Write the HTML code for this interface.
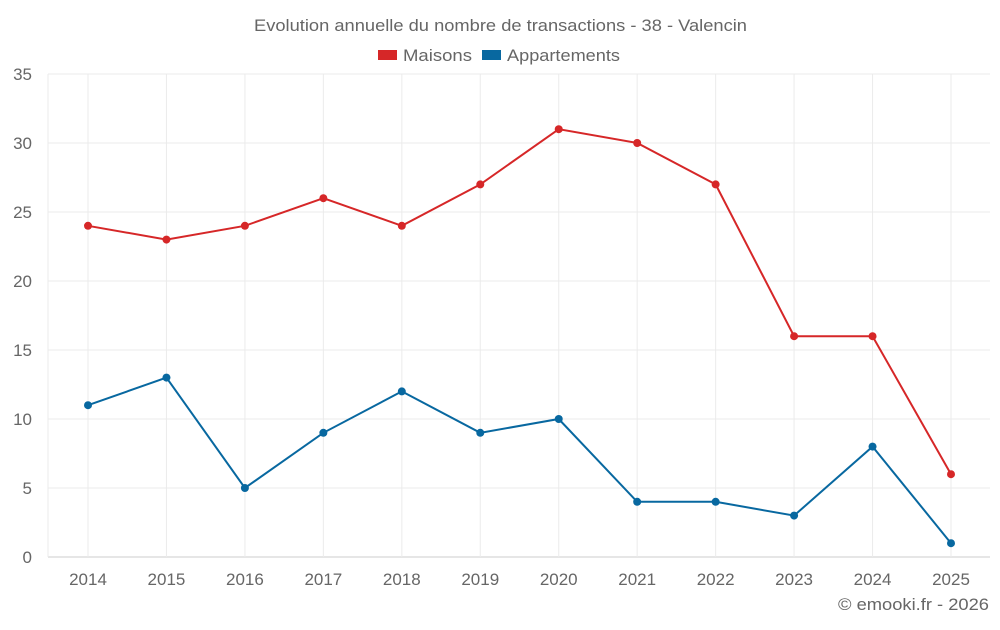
<!DOCTYPE html>
<html><head><meta charset="utf-8"><style>
body{margin:0;background:#fff;font-family:"Liberation Sans",sans-serif}
svg text{font-family:"Liberation Sans",sans-serif;fill:#666}
</style></head><body>
<svg id="chart" width="1000" height="625" xmlns="http://www.w3.org/2000/svg">
<text x="254" y="31" font-size="17" textLength="493" lengthAdjust="spacingAndGlyphs">Evolution annuelle du nombre de transactions - 38 - Valencin</text>
<g>
<rect x="378" y="50" width="19" height="10" fill="#d62728"/>
<text x="403" y="61" font-size="17" textLength="69" lengthAdjust="spacingAndGlyphs">Maisons</text>
<rect x="482" y="50" width="19" height="10" fill="#0868a0"/>
<text x="507" y="61" font-size="17" textLength="113" lengthAdjust="spacingAndGlyphs">Appartements</text>
</g>
<g id="grid"></g><g id="axes"></g><g id="series"></g>
<text x="838" y="610" font-size="17" textLength="151" lengthAdjust="spacingAndGlyphs">© emooki.fr - 2026</text>
</svg>
<script>
const years=["2014","2015","2016","2017","2018","2019","2020","2021","2022","2023","2024","2025"];
const maisons=[24,23,24,26,24,27,31,30,27,16,16,6];
const appartements=[11,13,5,9,12,9,10,4,4,3,8,1];
const yTicks=[0,5,10,15,20,25,30,35];
const NS="http://www.w3.org/2000/svg";
const L=48,R=990,T=74,B=557,yMax=35;
const x=i=>88+i*(951-88)/(years.length-1);
const y=v=>B-(B-T)*v/yMax;
function mk(tag,attrs,parent){const e=document.createElementNS(NS,tag);for(const k in attrs)e.setAttribute(k,attrs[k]);parent.appendChild(e);return e;}
const grid=document.getElementById('grid'),axes=document.getElementById('axes'),ser=document.getElementById('series');
yTicks.forEach(t=>{
 const l=mk('line',{x1:L,x2:R,y1:y(t),y2:y(t),stroke:t===0?'#ccc':'#ebebeb'},grid);
 
 
 const tx=mk('text',{x:32,y:y(t)+6,'text-anchor':'end','font-size':17},axes);tx.textContent=t;
 
 
});
years.forEach((yr,i)=>{
 const l=mk('line',{x1:x(i),x2:x(i),y1:T,y2:B,stroke:'#ebebeb'},grid);
 
 
 const tx=mk('text',{x:x(i),y:585,'text-anchor':'middle','font-size':17},axes);tx.textContent=yr;
 
 
});
mk('line',{x1:L,x2:L,y1:T,y2:B,stroke:'#ebebeb'},grid);
function draw(vals,color,name){
 const p=mk('polyline',{points:vals.map((v,i)=>x(i)+','+y(v)).join(' '),fill:'none',stroke:color,'stroke-width':2},ser);
 
 
 vals.forEach((v,i)=>{const c=mk('circle',{cx:x(i),cy:y(v),r:4,fill:color},ser);
 
 });
}
draw(maisons,'#d62728','maisons');
draw(appartements,'#0868a0','appartements');
</script>
</body></html>
